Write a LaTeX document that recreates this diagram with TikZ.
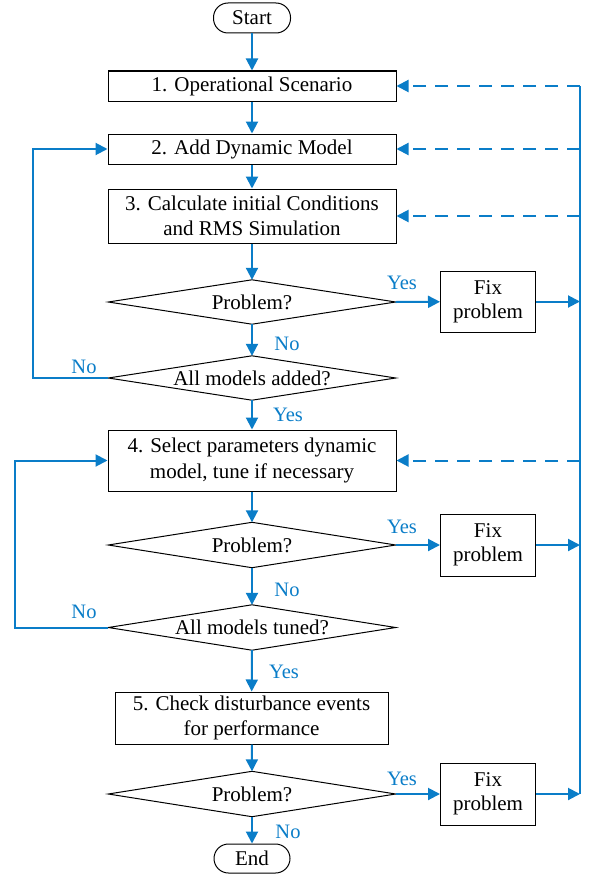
\documentclass[tikz,border=0pt]{standalone}
\usepackage{fontspec}
\setmainfont{Liberation Serif}
\usetikzlibrary{arrows.meta}
\definecolor{flowblue}{RGB}{10,125,200}
\begin{document}
\begin{tikzpicture}[x=1pt,y=-1pt,
  every node/.style={font=\fontsize{21}{25.5}\selectfont},
  procbox/.style={draw=black,line width=1pt,inner sep=0pt,align=center,fill=white},
  termbox/.style={procbox,rounded corners=14.5pt},
  decbox/.style={inner sep=0pt,align=center},
  lbl/.style={text=flowblue,font=\fontsize{20.5}{24}\selectfont,inner sep=0pt},
  flow/.style={draw=flowblue,line width=2pt,-{Triangle[length=12pt,width=12pt]}},
  flowline/.style={draw=flowblue,line width=2pt},
  dflow/.style={flow,dash pattern=on 13pt off 9pt}
]
\useasboundingbox (0,0) rectangle (589,875);
% nodes
\node[termbox,minimum width=77pt,minimum height=30pt] (start) at (252,18) {Start};
\node[procbox,minimum width=288pt,minimum height=30pt] (b1) at (252,86) {1. Operational Scenario};
\node[procbox,minimum width=288pt,minimum height=30pt] (b2) at (252,149) {2. Add Dynamic Model};
\node[procbox,minimum width=288pt,minimum height=54pt] (b3) at (252,216) {3. Calculate initial Conditions\\and RMS Simulation};
\node[decbox,minimum width=287pt,minimum height=44pt] (d1) at (252,302) {Problem?};
\node[decbox,minimum width=287pt,minimum height=44pt] (d2) at (252,378) {All models added?};
\node[procbox,minimum width=288pt,minimum height=61pt] (b4) at (252,460.5) {4. Select parameters dynamic\\model, tune if necessary};
\node[decbox,minimum width=287pt,minimum height=45pt] (d3) at (252,545) {Problem?};
\node[decbox,minimum width=287pt,minimum height=45pt] (d4) at (252,627.5) {All models tuned?};
\node[procbox,minimum width=273pt,minimum height=52pt] (b5) at (251.5,718) {5. Check disturbance events\\for performance};
\node[decbox,minimum width=287pt,minimum height=45pt] (d5) at (252,794) {Problem?};
\node[termbox,minimum width=76pt,minimum height=29pt] (end) at (252,858.5) {End};
\node[procbox,minimum width=95pt,minimum height=61pt,font=\fontsize{21}{24}\selectfont] (f1) at (488,301.5) {Fix\\problem};
\node[procbox,minimum width=95pt,minimum height=62pt,font=\fontsize{21}{24}\selectfont] (f2) at (488,545) {Fix\\problem};
\node[procbox,minimum width=95pt,minimum height=62pt,font=\fontsize{21}{24}\selectfont] (f3) at (488,794) {Fix\\problem};
% diamonds
\foreach \d in {d1,d2,d3,d4,d5}{
  \draw[black,line width=1pt] (\d.west) -- (\d.north) -- (\d.east) -- (\d.south) -- cycle;
}
% right-side collector coordinates
\coordinate (rt) at (580,86);
\coordinate (r2) at (580,149);
\coordinate (r3) at (580,216);
\coordinate (r4) at (580,460.5);
\coordinate (rf1) at (580,301.5);
\coordinate (rf2) at (580,545);
\coordinate (rb) at (580,794);
% main flow
\draw[flow] (start) -- (b1);
\draw[flow] (b1) -- (b2);
\draw[flow] (b2) -- (b3);
\draw[flow] (b3) -- (d1.north);
\draw[flow] (d1.south) -- (d2.north);
\draw[flow] (d2.south) -- (b4);
\draw[flow] (b4) -- (d3.north);
\draw[flow] (d3.south) -- (d4.north);
\draw[flow] (d4.south) -- (b5);
\draw[flow] (b5) -- (d5.north);
\draw[flow] (d5.south) -- (end);
% yes branches
\draw[flow] (d1.east) -- (f1);
\draw[flow] (d3.east) -- (f2);
\draw[flow] (d5.east) -- (f3);
\draw[flow] (f1) -- (rf1);
\draw[flow] (f2) -- (rf2);
\draw[flow] (f3) -- (rb);
% loops
\draw[flow] (d2.west) -- (33,378) |- (b2.west);
\draw[flow] (d4.west) -- (15,627.5) |- (b4.west);
% right collector line
\draw[flowline] (rt) -- (rb);
\draw[dflow] (rt) -- (b1.east);
\draw[dflow] (r2) -- (b2.east);
\draw[dflow] (r3) -- (b3.east);
\draw[dflow] (r4) -- (b4.east);
% labels
\node[lbl] (ly1) at (402,283) {Yes};
\node[lbl] (ln1) at (287,344) {No};
\node[lbl] (ln2) at (84,367) {No};
\node[lbl] (ly2) at (288,415) {Yes};
\node[lbl] (ly3) at (402,527) {Yes};
\node[lbl] (ln3) at (287,590) {No};
\node[lbl] (ln4) at (84,612) {No};
\node[lbl] (ly4) at (284,672) {Yes};
\node[lbl] (ly5) at (402,779) {Yes};
\node[lbl] (ln5) at (288,832) {No};
\end{tikzpicture}
\end{document}
